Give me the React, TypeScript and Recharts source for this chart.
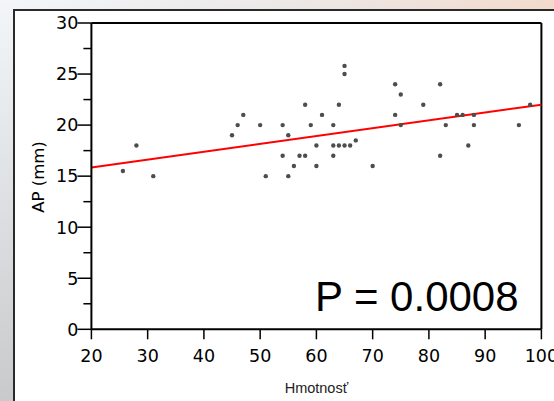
import { ScatterChart, Scatter, XAxis, YAxis, ReferenceLine } from 'recharts';

// weight (Hmotnosť) and AP diameter in mm, one entry per subject
const weight = [
  25.6, 28, 31, 45, 46, 47, 50, 51, 54, 54, 55, 55, 56, 57, 58, 58, 59, 60, 60, 61, 63, 63, 63,
  64, 64, 65, 65, 65, 66, 67, 70, 74, 74, 75, 75, 79, 82, 82, 83, 85, 86, 87, 88, 88, 96, 98,
];
const ap = [
  15.5, 18, 15, 19, 20, 21, 20, 15, 20, 17, 19, 15, 16, 17, 17, 22, 20, 18, 16, 21, 20, 18, 17,
  22, 18, 25.8, 25, 18, 18, 18.5, 16, 24, 21, 23, 20, 22, 24, 17, 20, 21, 21, 18, 21, 20, 20, 22,
];

const xTicks = [20, 30, 40, 50, 60, 70, 80, 90, 100];
const yTicks = [0, 2.5, 5, 7.5, 10, 12.5, 15, 17.5, 20, 22.5, 25, 27.5, 30];

// regression line end points
const fitX = [20, 100];
const fitY = [15.85, 22.0];

const pValue = 'P = 0.0008';

const FONT = '"Liberation Sans", Arial, sans-serif';
const TICK_FONT = '"DejaVu Sans", sans-serif';

const points = weight.map((w, i) => ({ w, ap: ap[i] }));

function YTick({ x, y, payload }: any) {
  const v = payload.value;
  const major = v % 5 === 0;
  return (
    <g>
      <line x1={x - (major ? 14 : 8)} x2={x} y1={y} y2={y} stroke="#000" strokeWidth={1.5} />
      {major && (
        <text x={x - 13} y={y} dy="0.36em" textAnchor="end" fontSize={17.5} fontFamily={TICK_FONT} fill="#000">
          {v}
        </text>
      )}
    </g>
  );
}

const Dot = (p: any) => <circle cx={p.cx} cy={p.cy} r={2.2} fill="#4d4d4d" />;

export default function App() {
  return (
    <div
      style={{
        position: 'absolute',
        left: 0,
        top: 0,
        width: 554,
        height: 401,
        overflow: 'hidden',
        fontFamily: FONT,
        background:
          'linear-gradient(to bottom, rgba(120,120,120,0) 0%, rgba(120,120,120,0.35) 100%), linear-gradient(to right, #f3f6f9 0%, #ece9e9 50%, #f3dbcd 100%)',
      }}
    >
      <div
        style={{
          position: 'absolute',
          left: 13,
          top: 9,
          width: 620,
          height: 460,
          background: '#fff',
          border: '2px solid #2a2a2a',
          boxSizing: 'border-box',
        }}
      />
      <div style={{ position: 'absolute', left: 0, top: 0 }}>
        <ScatterChart width={554} height={401} margin={{ top: 23, right: 12.6, bottom: 31.7, left: 0 }}>
          <XAxis
            type="number"
            dataKey="w"
            domain={[20, 100]}
            ticks={xTicks}
            interval={0}
            height={40}
            tickSize={10}
            tickMargin={10}
            axisLine={{ stroke: '#000', strokeWidth: 2 }}
            tickLine={{ stroke: '#000', strokeWidth: 1.5 }}
            tick={{ fill: '#000', fontSize: 17.5, fontFamily: TICK_FONT }}
            label={{ value: 'Hmotnosť', position: 'bottom', offset: 13, fill: '#222', fontSize: 14.5, fontFamily: FONT }}
          />
          <YAxis
            type="number"
            dataKey="ap"
            domain={[0, 30]}
            ticks={yTicks}
            interval={0}
            width={91.4}
            tickSize={0}
            tickMargin={0}
            tickLine={false}
            axisLine={{ stroke: '#000', strokeWidth: 2 }}
            tick={<YTick />}
            label={() => (
              <text transform="translate(44,177) rotate(-90)" textAnchor="middle" fontSize={16.5} fontFamily={TICK_FONT} fill="#000">
                AP (mm)
              </text>
            )}
          />
          <ReferenceLine y={30} stroke="#000" strokeWidth={2} />
          <ReferenceLine x={100} stroke="#000" strokeWidth={2} />
          <ReferenceLine
            segment={[
              { x: fitX[0], y: fitY[0] },
              { x: fitX[1], y: fitY[1] },
            ]}
            stroke="#ff0000"
            strokeWidth={2}
          />
          <Scatter data={points} shape={Dot} isAnimationActive={false} />
        </ScatterChart>
      </div>
      <svg width={554} height={401} style={{ position: 'absolute', left: 0, top: 0, pointerEvents: 'none' }}>
        <text x={315} y={311} fontSize={42} fontFamily={FONT} fill="#000">
          {pValue}
        </text>
      </svg>
    </div>
  );
}
